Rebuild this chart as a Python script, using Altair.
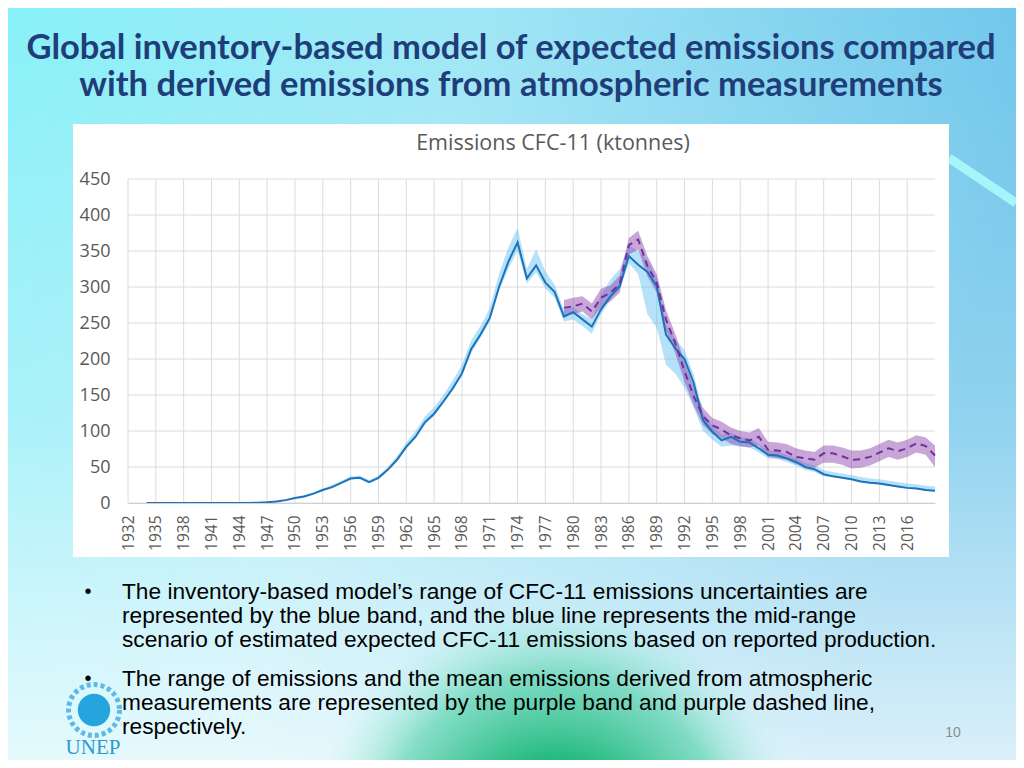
import altair as alt
import pandas as pd

# ---------------- data ----------------
blue_years = list(range(1934, 2020))
blue_mid = [0, 0, 0, 0, 0, 0, 0, 0, 0, 0, 0, 0, 0.5,
            1, 2, 4, 7, 9, 13, 18, 22, 28, 34, 35, 29, 35, 46,
            60, 78, 92, 112, 124, 141, 159, 180, 214, 234, 257,
            300, 335, 362, 312, 330, 306, 293, 259, 265, 255, 245, 269, 287, 301, 343, 331, 321, 301,
            234, 215, 200, 166, 115, 99, 87, 92, 85, 84, 76, 67, 66, 62, 57, 50, 47, 40,
            37, 35, 33, 30, 28, 27, 25, 23, 21, 20, 18, 17]
blue_lo = [0, 0, 0, 0, 0, 0, 0, 0, 0, 0, 0, 0, 0.5,
           1, 2, 4, 7, 9, 13, 18, 22, 28, 33, 34, 28, 34, 45,
           58, 76, 90, 109, 121, 138, 156, 176, 208, 229, 252,
           295, 325, 350, 305, 320, 298, 285, 252, 255, 246, 235, 262, 282, 296, 333, 318, 262, 243,
           192, 180, 160, 132, 100, 88, 78, 80, 78, 77, 70, 62, 61, 57, 52, 46, 43, 37,
           36, 34, 32, 29, 27, 26, 24, 22, 20, 19, 17, 16]
blue_hi = [0, 0, 0, 0, 0, 0, 0, 0, 0, 0, 0, 0.5, 1,
           2, 3, 5, 8, 11, 15, 20, 25, 31, 37, 38, 32, 38, 50,
           65, 84, 100, 120, 133, 150, 170, 192, 226, 246, 270,
           318, 355, 382, 325, 352, 322, 303, 268, 272, 262, 255, 290, 310, 325, 358, 350, 338, 312,
           248, 228, 212, 178, 125, 108, 95, 98, 92, 90, 82, 73, 72, 67, 62, 56, 52, 46,
           43, 41, 39, 36, 34, 33, 31, 29, 27, 26, 24, 23]

purple_years = list(range(1979, 2020))
purple_mean = [271, 273, 277, 266, 285, 292, 304, 358, 366, 329,
               306, 255, 222, 183, 148, 120, 108, 102, 94, 90,
               87, 92, 74, 73, 71, 64, 62, 60, 69, 69,
               65, 60, 61, 64, 70, 76, 72, 76, 83, 79, 66]
purple_lo = [260, 262, 266, 255, 272, 280, 292, 345, 352, 315,
             292, 240, 208, 168, 135, 108, 96, 90, 82, 79,
             77, 80, 64, 62, 60, 54, 51, 49, 56, 56,
             53, 48, 49, 52, 58, 64, 60, 64, 70, 67, 50]
purple_hi = [282, 285, 287, 277, 298, 302, 316, 368, 378, 343,
             318, 268, 235, 196, 160, 132, 118, 113, 105, 100,
             98, 104, 85, 84, 82, 76, 73, 71, 80, 80,
             77, 73, 73, 76, 82, 88, 84, 88, 94, 91, 80]

x_tick_years = list(range(1932, 2017, 3))
y_ticks = [0, 50, 100, 150, 200, 250, 300, 350, 400, 450]
x_domain = [1932, 2019]
y_domain = [0, 450]

slide_title = ["Global inventory-based model of expected emissions compared",
               "with derived emissions from atmospheric measurements"]
chart_title = "Emissions CFC-11 (ktonnes)"
bullet_1 = ["The inventory-based model\u2019s range of CFC-11 emissions uncertainties are",
            "represented by the blue band, and the blue line represents the mid-range",
            "scenario of estimated expected CFC-11 emissions based on reported production."]
bullet_2 = ["The range of emissions and the mean emissions derived from atmospheric",
            "measurements are represented by the purple band and purple dashed line,",
            "respectively."]
page_number = "10"
logo_text = "UNEP"

blue_df = pd.DataFrame({"Year": blue_years, "mid": blue_mid, "lo": blue_lo, "hi": blue_hi})
purple_df = pd.DataFrame({"Year": purple_years, "mean": purple_mean, "lo": purple_lo, "hi": purple_hi})
vgrid_df = pd.DataFrame({"Year": x_tick_years})
hgrid_df = pd.DataFrame({"v": y_ticks})

# ---------------- layout helpers ----------------
W, H = 807, 324
OX, OY = 128, 179          # page position of plot origin


def px(x):
    return x - OX


def py(y):
    return y - OY


one = alt.Data(values=[{}])
GREY = "#595959"
CHART_FONT = "Open Sans"

X = alt.X("Year:Q", scale=alt.Scale(domain=x_domain, nice=False, zero=False),
          axis=alt.Axis(values=x_tick_years, format="d", labelAngle=270, title=None,
                        grid=False, ticks=False, tickSize=0, domain=True, domainColor="#d0d0d0",
                        labelFont=CHART_FONT, labelFontSize=15.5, labelColor=GREY,
                        labelPadding=12, zindex=1))


def Y(field):
    return alt.Y(f"{field}:Q", scale=alt.Scale(domain=y_domain, nice=False, zero=True),
                 axis=alt.Axis(values=y_ticks, title=None, grid=False, ticks=False, tickSize=0,
                               domain=False, labelFont=CHART_FONT, labelFontSize=18,
                               labelColor=GREY, labelPadding=18, zindex=1))


def rect(x, x2, y, y2, **kw):
    return alt.Chart(one).mark_rect(**kw).encode(
        x=alt.value(px(x)), x2=alt.value(px(x2)), y=alt.value(py(y)), y2=alt.value(py(y2)))


def label(txt, x, y, size, color, font, weight="normal", align="left"):
    return alt.Chart(one).mark_text(
        text=txt, fontSize=size, color=color, font=font, fontWeight=weight,
        align=align, baseline="middle").encode(x=alt.value(px(x)), y=alt.value(py(y)))


# ---------------- background (slide) ----------------
bg = rect(8, 1016, 8, 760, fill=alt.LinearGradient(
    gradient="linear", x1=0, y1=0, x2=1, y2=0.25,
    stops=[alt.GradientStop(color="#88f1f8", offset=0),
           alt.GradientStop(color="#9fe6f6", offset=0.45),
           alt.GradientStop(color="#6cc4ea", offset=1)]))
bg_fade = rect(8, 1016, 8, 760, fill=alt.LinearGradient(
    gradient="linear", x1=0, y1=0, x2=0, y2=1,
    stops=[alt.GradientStop(color="rgba(255,255,255,0)", offset=0),
           alt.GradientStop(color="rgba(255,255,255,0.25)", offset=0.55),
           alt.GradientStop(color="rgba(255,255,255,0.75)", offset=1)]))
bg_green = rect(310, 800, 520, 760, fill=alt.RadialGradient(
    gradient="radial", x1=0.5, y1=0.92, r1=0, x2=0.5, y2=0.92, r2=0.5,
    stops=[alt.GradientStop(color="rgba(10,170,100,1)", offset=0),
           alt.GradientStop(color="rgba(25,182,120,0.95)", offset=0.35),
           alt.GradientStop(color="rgba(70,205,160,0.6)", offset=0.7),
           alt.GradientStop(color="rgba(170,240,225,0)", offset=1)]))
swoosh = alt.Chart(one).mark_rule(color="#a6f5fb", strokeWidth=9).encode(
    x=alt.value(px(949)), y=alt.value(py(158)), x2=alt.value(px(1016)), y2=alt.value(py(203)))
white_box = rect(73, 949, 124, 557, fill="white")

# ---------------- chart ----------------
vgrid = alt.Chart(vgrid_df).mark_rule(color="#dcdcdc", strokeWidth=1).encode(x=X)
hgrid = alt.Chart(hgrid_df).mark_rule(color="#dcdcdc", strokeWidth=1).encode(y=Y("v"))

blue_band = alt.Chart(blue_df).mark_area(color="#5bbef0", opacity=0.45).encode(
    x=X, y=Y("lo"), y2="hi")
purple_band = alt.Chart(purple_df).mark_area(color="#8e44ad", opacity=0.48).encode(
    x=X, y=Y("lo"), y2="hi")
blue_line = alt.Chart(blue_df).mark_line(color="#1c72bb", strokeWidth=2).encode(
    x=X, y=Y("mid"))
purple_line = alt.Chart(purple_df).mark_line(color="#7030a0", strokeWidth=2,
                                             strokeDash=[7, 5]).encode(x=X, y=Y("mean"))

# ---------------- texts ----------------
TITLE_C = "#1f3d78"
texts = [
    label(slide_title[0], 511, 49, 34.5, TITLE_C, "Lato", "bold", "center"),
    label(slide_title[1], 511, 86, 34.5, TITLE_C, "Lato", "bold", "center"),
    label(chart_title, 553, 144, 21.5, GREY, CHART_FONT, align="center"),
]
BODY_FONT = "Liberation Sans"
for i, line in enumerate(bullet_1):
    texts.append(label(line, 122, 592 + 24 * i, 22.7, "black", BODY_FONT))
for i, line in enumerate(bullet_2):
    texts.append(label(line, 122, 679 + 24 * i, 22.7, "black", BODY_FONT))
texts.append(label("\u2022", 88, 592, 20, "black", BODY_FONT, align="center"))
texts.append(label("\u2022", 88, 679, 20, "black", BODY_FONT, align="center"))
texts.append(label(page_number, 953, 733, 14, "#8c8c8c", BODY_FONT, align="center"))

# UNEP logo (approximation)
wreath = alt.Chart(one).mark_point(shape="circle", filled=False, size=2600, color="#4fb3e6",
                                   strokeWidth=5, strokeDash=[4, 3], opacity=0.9).encode(
    x=alt.value(px(94)), y=alt.value(py(710)))
emblem = alt.Chart(one).mark_point(shape="circle", filled=True, size=1050, color="#25a4de",
                                   opacity=1).encode(x=alt.value(px(94)), y=alt.value(py(710)))
logo = label(logo_text, 93, 748, 21, "#2a9ad4", "Liberation Serif", align="center")

chart = alt.layer(
    bg, bg_fade, bg_green, swoosh, white_box,
    vgrid, hgrid, blue_band, purple_band, blue_line, purple_line,
    *texts, wreath, emblem, logo
).properties(
    width=W, height=H,
    padding={"left": 120, "top": 171, "right": 81, "bottom": 257},
    autosize=alt.AutoSizeParams(type="none"),
    background="#9fe6f6",
).configure_view(stroke=None)

chart.save("out.html", embed_options={"renderer": "svg", "actions": False})
